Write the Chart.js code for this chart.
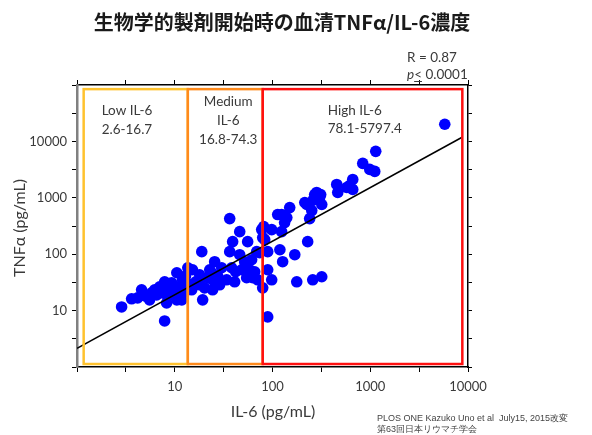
<!DOCTYPE html>
<html>
<head>
<meta charset="utf-8">
<script src="https://cdn.jsdelivr.net/npm/chart.js@4/dist/chart.umd.min.js"></script>
<style>
html,body{margin:0;padding:0;background:#fff;}
#wrap{width:592px;height:435px;position:relative;}
canvas{display:block;}
</style>
</head>
<body>
<div id="wrap"><canvas id="c" width="592" height="435"></canvas></div>
<script>
// ---- data ----
const il6 = [2.86,7.88,4.17,4.58,5.53,5.80,6.53,7.01,7.52,7.88,8.26,8.87,9.30,10.5,10.5,11.2,11.8,12.0,12.6,13.2,13.6,5.04,6.23,9.98,8.46,3.62,
  15.2,16.4,18.0,18.0,18.9,19.3,20.2,22.8,23.9,24.4,24.4,30.2,27.5,34.0,36.5,36.5,38.2,39.1,41.0,46.2,46.2,48.4,54.4,55.7,58.4,61.2,65.7,68.9,70.6,74.0,77.5,79.4,62.7,51.9,21.7,12.9,14.9,28.8,42.0,25.6,
  79.4,81.3,83.2,89.3,89.3,89.3,98.1,98.1,113,119,124,124,127,133,140,150,169,177,214,224,229,240,252,258,258,270,283,304,311,319,319,454,465,575,617,662,662,838,988,1112,1138,5785];
const tnfa = [11.6,6.56,16.8,23.4,15.5,20.6,19.0,26.4,20.6,32.4,13.7,23.4,31.1,46.9,15.5,26.4,15.5,35.2,21.5,31.1,57.5,18.0,23.4,19.0,18.3,16.2,
  53.0,32.4,43.2,28.7,111,15.5,25.3,53.0,46.9,35.2,23.4,57.5,41.4,35.2,111,428,57.5,167,32.4,251,98,53.0,38.2,167,53.0,79.8,48.8,111,35.2,106,273,197,38.2,73.6,38.2,41.4,23.4,28.7,48.8,73.6,
  25.3,308,181,53.0,7.73,111,273,35.2,505,120,505,251,73.6,364,446,672,98,32.4,825,760,167,428,594,35.2,895,1145,1243,1012,1145,760,39.8,1725,1243,1525,1656,1406,2117,4077,3190,2938,6665,20150];
const fitX = [1, 8800];
const fitY = [2.14, 11970];
const xTicks = [1, 3.162, 10, 31.62, 100, 316.2, 1000, 3162, 10000];
const xLabelValues = [10, 100, 1000, 10000];
const yTicks = [1, 3.162, 10, 31.62, 100, 316.2, 1000, 3162, 10000, 31623, 100000];
const yLabelValues = [10, 100, 1000, 10000];
const zoneNames = ['low', 'medium', 'high'];
const zoneXFrom = [1.17, 13.6, 79.4];
const zoneXTo = [13.6, 79.4, 8750];
const zoneYFrom = [1.13, 1.13, 1.13];
const zoneYTo = [84500, 84500, 84500];
const zoneText = [['Low IL-6', '2.6-16.7'], ['Medium', 'IL-6', '16.8-74.3'], ['High IL-6', '78.1-5797.4']];
const zoneColors = ['#FFC22E', '#FF8A1C', '#FF1010'];

const TXT = '#3a3a3a';
const tickCfg = (vals, labels, pos) => ({
  type: 'logarithmic', position: pos, min: vals[0], max: vals[vals.length - 1],
  afterBuildTicks: s => { s.ticks = vals.map(v => ({ value: v })); },
  ticks: { autoSkip: false, maxRotation: 0, font: { family: 'Lato', size: 13 }, color: TXT,
    callback: v => labels.some(l => Math.abs(l - v) < 1e-6) ? String(v) : '' },
  grid: { drawOnChartArea: false, drawTicks: true, tickLength: 5, color: '#000', lineWidth: 1 },
  border: { display: true, color: '#000', width: 1.5 }
});

const xScale = tickCfg(xTicks, xLabelValues, 'bottom');
xScale.ticks.padding = 7;
xScale.afterFit = s => { s.height = 68; };
const x2Scale = tickCfg(xTicks, [], 'top');
x2Scale.ticks.display = false;
x2Scale.afterFit = s => { s.height = 6; };
const yScale = tickCfg(yTicks, yLabelValues, 'left');
yScale.ticks.padding = 5;
yScale.border = { display: true, color: '#808080', width: 2.5 };
yScale.afterFit = s => { s.width = 77; };
const y2Scale = tickCfg(yTicks, [], 'right');
y2Scale.ticks.display = false;
y2Scale.grid.tickLength = 4;
y2Scale.afterFit = s => { s.width = 6; };

const zonePlugin = {
  id: 'zones',
  afterDatasetsDraw(chart) {
    const ctx = chart.ctx, xs = chart.scales.x, ys = chart.scales.y;
    ctx.save();
    zoneNames.forEach((n, i) => {
      const l = xs.getPixelForValue(zoneXFrom[i]), r = xs.getPixelForValue(zoneXTo[i]);
      const t = ys.getPixelForValue(zoneYTo[i]), b = ys.getPixelForValue(zoneYFrom[i]);
      ctx.strokeStyle = zoneColors[i];
      ctx.lineWidth = 2.5;
      ctx.strokeRect(l, t, r - l, b - t);
      ctx.fillStyle = TXT;
      ctx.font = '13.5px Lato';
      ctx.textBaseline = 'middle';
      const lines = zoneText[i];
      lines.forEach((s, k) => {
        if (n === 'low') { ctx.textAlign = 'left'; ctx.fillText(s, l + 18, t + 22 + k * 19); }
        else if (n === 'medium') { ctx.textAlign = 'center'; ctx.fillText(s, (l + r) / 2 + 3, t + 13 + k * 19); }
        else { ctx.textAlign = 'left'; ctx.fillText(s, l + 65, t + 22 + k * 18); }
      });
    });
    ctx.restore();
  },
  afterDraw(chart) {
    const ctx = chart.ctx;
    ctx.save();
    ctx.fillStyle = '#1a1a1a';
    ctx.textAlign = 'center'; ctx.textBaseline = 'middle';
    ctx.font = 'bold 20px "Noto Sans CJK JP"';
    ctx.fillText('生物学的製剤開始時の血清TNFα/IL-6濃度', 282, 22);
    ctx.fillStyle = TXT;
    ctx.font = '16px Lato';
    ctx.fillText('IL-6 (pg/mL)', 273, 412);
    ctx.save();
    ctx.translate(20, 228); ctx.rotate(-Math.PI / 2);
    ctx.fillText('TNFα (pg/mL)', 0, 0);
    ctx.restore();
    ctx.textAlign = 'left';
    ctx.font = '13.5px Lato';
    ctx.fillText('R = 0.87', 407, 58);
    ctx.font = 'italic 13.5px Lato';
    ctx.fillText('p', 407, 75);
    const pw = ctx.measureText('p').width;
    ctx.font = '13.5px Lato';
    ctx.fillText('< 0.0001', 407 + pw, 75);
    const lw = ctx.measureText('<').width;
    ctx.strokeStyle = TXT; ctx.lineWidth = 1;
    ctx.beginPath(); ctx.moveTo(407 + pw, 81.5); ctx.lineTo(407 + pw + lw, 81.5); ctx.stroke();
    ctx.fillStyle = '#444';
    ctx.font = '9px "Liberation Sans"';
    ctx.fillText('PLOS ONE Kazuko Uno et al  July15, 2015改変', 377, 419);
    ctx.fillText('第63回日本リウマチ学会', 377, 430);
    ctx.restore();
  }
};

new Chart(document.getElementById('c'), {
  type: 'scatter',
  data: {
    datasets: [
      { type: 'line', data: fitX.map((x, i) => ({ x, y: fitY[i] })), borderColor: '#000', borderWidth: 1.5,
        pointRadius: 0, fill: false, order: 0 },
      { data: il6.map((x, i) => ({ x, y: tnfa[i] })), backgroundColor: '#0000FF', borderWidth: 0,
        pointRadius: 5.8, pointHoverRadius: 5.8, order: 1 }
    ]
  },
  options: {
    responsive: false, animation: false, devicePixelRatio: 1,
    layout: { padding: { left: 0, top: 79, right: 118, bottom: 0 } },
    plugins: { legend: { display: false }, tooltip: { enabled: false } },
    scales: { x: xScale, x2: x2Scale, y: yScale, y2: y2Scale }
  },
  plugins: [zonePlugin]
});
</script>
</body>
</html>
